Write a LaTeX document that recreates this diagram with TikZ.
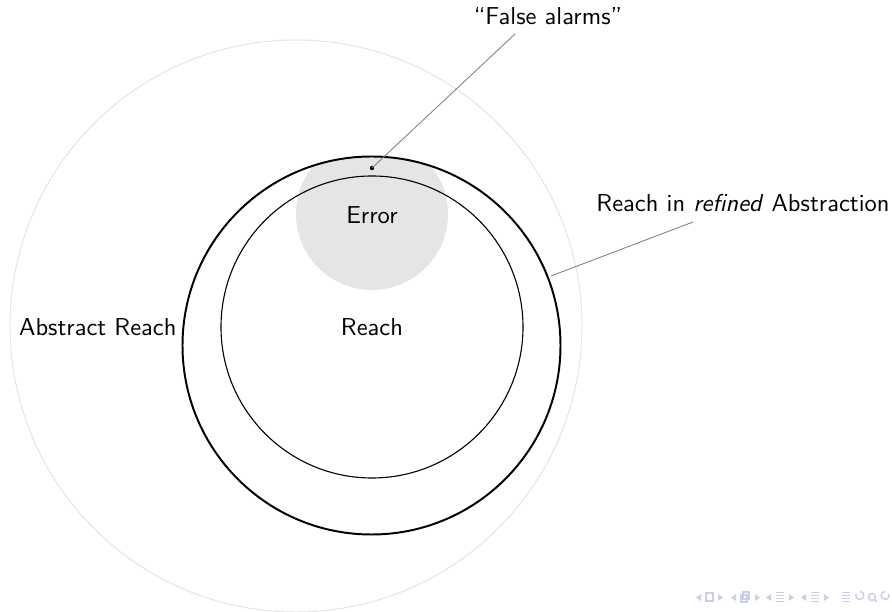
\documentclass[tikz,border=0pt]{standalone}
\usepackage{tikz}
\definecolor{navc}{rgb}{0.8,0.8,0.92}
\definecolor{errfill}{gray}{0.9}
\definecolor{outerc}{gray}{0.89}
\definecolor{leadc}{gray}{0.5}
\tikzset{
  lbl/.style={font=\sffamily\fontsize{10}{12}\selectfont, inner sep=0pt},
  leader/.style={draw=leadc, line width=0.35pt},
  navtri/.style={fill=navc, draw=none},
  navbar/.style={fill=navc, draw=none}
}
\begin{document}
\begin{tikzpicture}[x=0.4083pt, y=-0.4083pt]
\useasboundingbox (0,0) rectangle (892,612);
% outer abstract reach
\draw[outerc, line width=0.4pt] (296,326) circle (286);
% error region clipped to refined abstraction
\begin{scope}
  \clip (371.5,345.5) circle (189);
  \fill[errfill] (372,214) circle (76);
\end{scope}
% refined abstraction
\draw[black, line width=0.8pt] (371.5,345.5) circle (189);
% reach
\draw[black, line width=0.45pt] (372,327) circle (151);
% labels
\node[lbl] (err) at (372,215) {Error};
\node[lbl] (reach) at (372,327) {Reach};
\node[lbl, anchor=east] (abs) at (177,327) {Abstract Reach};
\node[lbl] (fa) at (548,16) {``False alarms''};
\node[lbl] (ref) at (743,203) {Reach in \textit{refined} Abstraction};
% leaders
\coordinate (dotc) at (372,168);
\fill (dotc) circle (2.2);
\coordinate (fal) at (515,34);
\draw[leader] (dotc) -- (fal);
\coordinate (refa) at (551,276);
\coordinate (refb) at (693,222);
\draw[leader] (refa) -- (refb);
% navigation symbols (approximation)
\begin{scope}
  \fill[navtri] (701,594) -- (701,601) -- (696,597.5) -- cycle;
  \draw[navc, line width=0.5pt] (706,593) rectangle (713,601);
  \fill[navtri] (718,594) -- (718,601) -- (723,597.5) -- cycle;
  \fill[navtri] (736,594) -- (736,601) -- (731,597.5) -- cycle;
  \draw[navc, line width=0.5pt] (741,595) rectangle (747,602);
  \draw[navc, line width=0.5pt] (743,592) rectangle (749,599);
  \fill[navtri] (755,594) -- (755,601) -- (760,597.5) -- cycle;
  \fill[navtri] (771,594) -- (771,601) -- (766,597.5) -- cycle;
  \foreach \yy in {592,595,598,601} \fill[navbar] (776,\yy) rectangle (784,\yy+1.2);
  \fill[navtri] (789,594) -- (789,601) -- (794,597.5) -- cycle;
  \fill[navtri] (806,594) -- (806,601) -- (801,597.5) -- cycle;
  \foreach \yy in {592,595,598,601} \fill[navbar] (811,\yy) rectangle (819,\yy+1.2);
  \fill[navtri] (824,594) -- (824,601) -- (829,597.5) -- cycle;
  \foreach \yy in {592,595,598,601} \fill[navbar] (842,\yy) rectangle (850,\yy+1.2);
  \draw[navc, line width=0.6pt] (856,594) arc (200:-90:4);
  \draw[navc, line width=0.6pt] (872,597) circle (3.5) (874.5,599.5) -- (877,602);
  \draw[navc, line width=0.6pt] (889,594) arc (-20:270:4);
\end{scope}
\end{tikzpicture}
\end{document}
